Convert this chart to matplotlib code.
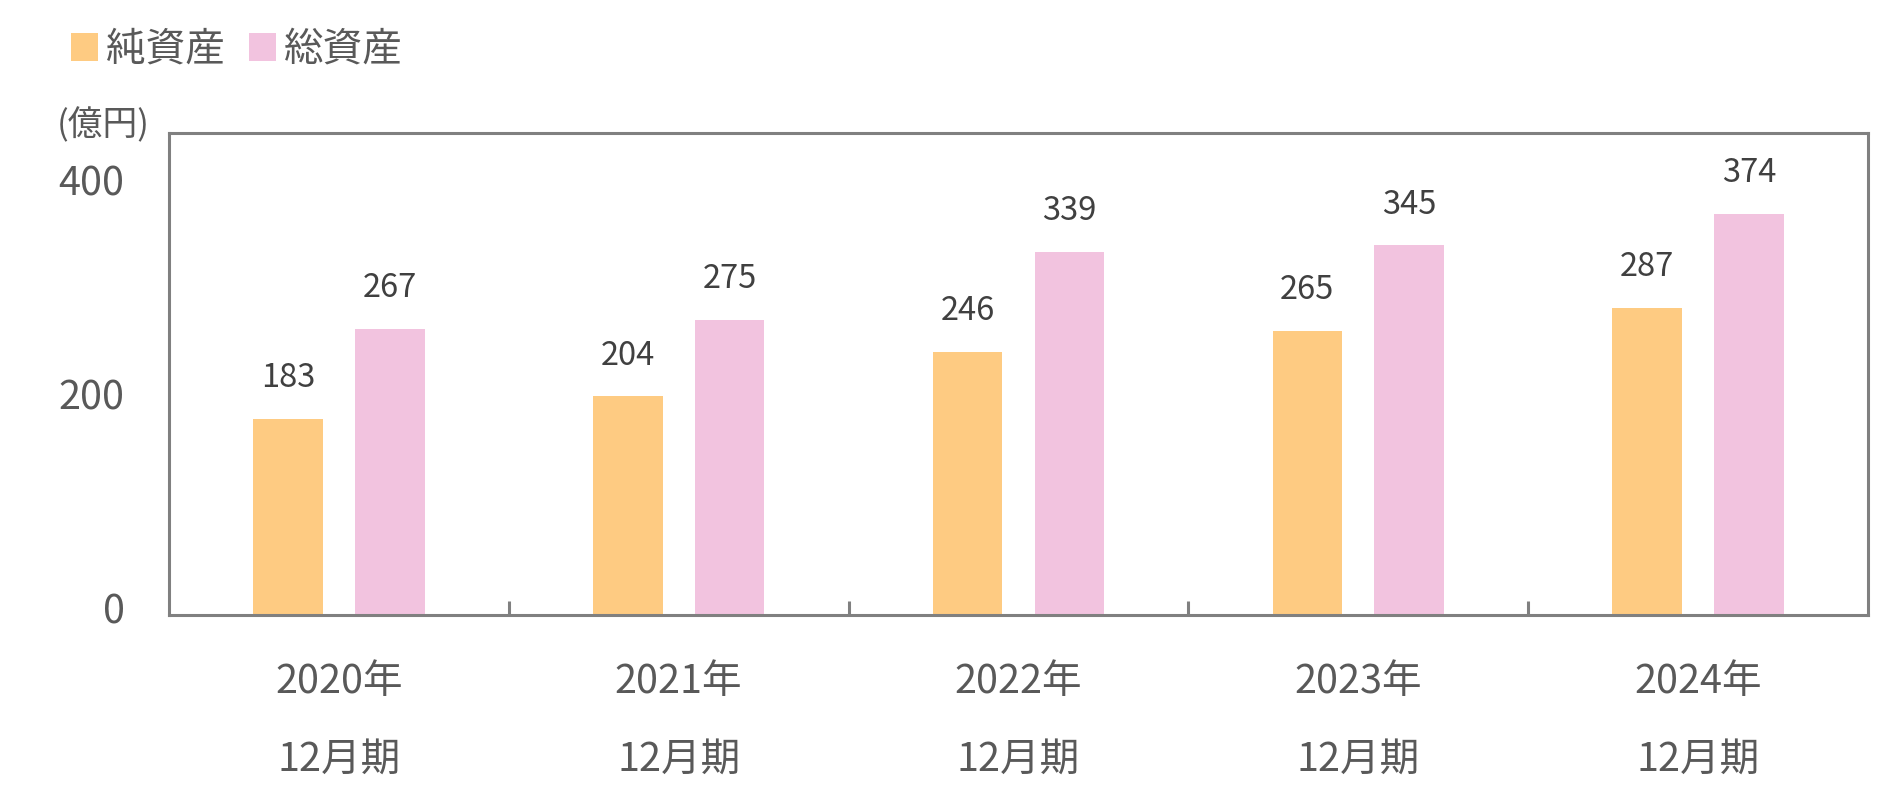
import numpy as np
import matplotlib
matplotlib.use('Agg')
import matplotlib.pyplot as plt
import matplotlib.transforms as mtransforms

plt.rcParams['font.family'] = ['Noto Sans CJK JP', 'DejaVu Sans']

# data ---------------------------
years = ['2020年', '2021年', '2022年', '2023年', '2024年']
period = ['12月期'] * 5
net_assets = [183, 204, 246, 265, 287]     # 純資産
total_assets = [267, 275, 339, 345, 374]   # 総資産
series_names = ['純資産', '総資産']
yticks = [0, 200, 400]

c_net = '#FECB82'
c_tot = '#F2C3DF'
c_axis = '#808080'
c_lab = '#595959'
c_val = '#404040'

fig = plt.figure(figsize=(18.99, 8.08), dpi=100)
ax = fig.add_axes([169/1899, 1-615/808, (1868-169)/1899, (615-133)/808])

x = np.arange(len(years))
w = 0.205
off = 0.15
b1 = ax.bar(x-off, net_assets, w, color=c_net, label=series_names[0], zorder=2)
b2 = ax.bar(x+off, total_assets, w, color=c_tot, label=series_names[1], zorder=2)

# value labels above bars
for bars, vals in [(b1, net_assets), (b2, total_assets)]:
    for r, v in zip(bars, vals):
        ax.annotate(str(v), (r.get_x()+r.get_width()/2, v), xytext=(0, 23),
                    textcoords='offset points', ha='center', va='baseline',
                    fontsize=23.5, color=c_val)

ax.set_xlim(-0.5, len(years)-0.5)
ax.set_ylim(0, 450)

for sp in ax.spines.values():
    sp.set_color(c_axis)
    sp.set_linewidth(2.2)

# y axis
ax.set_yticks(yticks)
ax.set_yticklabels([str(t) for t in yticks])
ax.tick_params(axis='y', length=0, pad=32, labelsize=28.5, labelcolor=c_lab)
shift = mtransforms.ScaledTranslation(0, 7/100, fig.dpi_scale_trans)
for lab in ax.get_yticklabels():
    lab.set_transform(lab.get_transform() + shift)

# x axis
ax.set_xticks(x)
ax.set_xticklabels([y+'\n'+p for y, p in zip(years, period)], linespacing=2.2)
ax.tick_params(axis='x', which='major', length=0, pad=34, labelsize=28.5, labelcolor=c_lab)
ax.set_xticks(np.arange(0.5, len(years)-1), minor=True)
ax.tick_params(axis='x', which='minor', direction='in', length=10, width=2.2, color=c_axis)

fig.text(103/1899, 1-126/808, '(億円)', ha='center', va='center', fontsize=25, color=c_lab)

fig.legend(handles=[b1, b2], labels=series_names, loc='upper left',
           bbox_to_anchor=(55/1899, 1-14/808), ncol=2, frameon=False,
           fontsize=28.5, labelcolor=c_lab, handlelength=0.68, handleheight=0.68,
           handletextpad=0.2, columnspacing=0.62, borderaxespad=0)

fig.savefig('out.png', dpi=100)
